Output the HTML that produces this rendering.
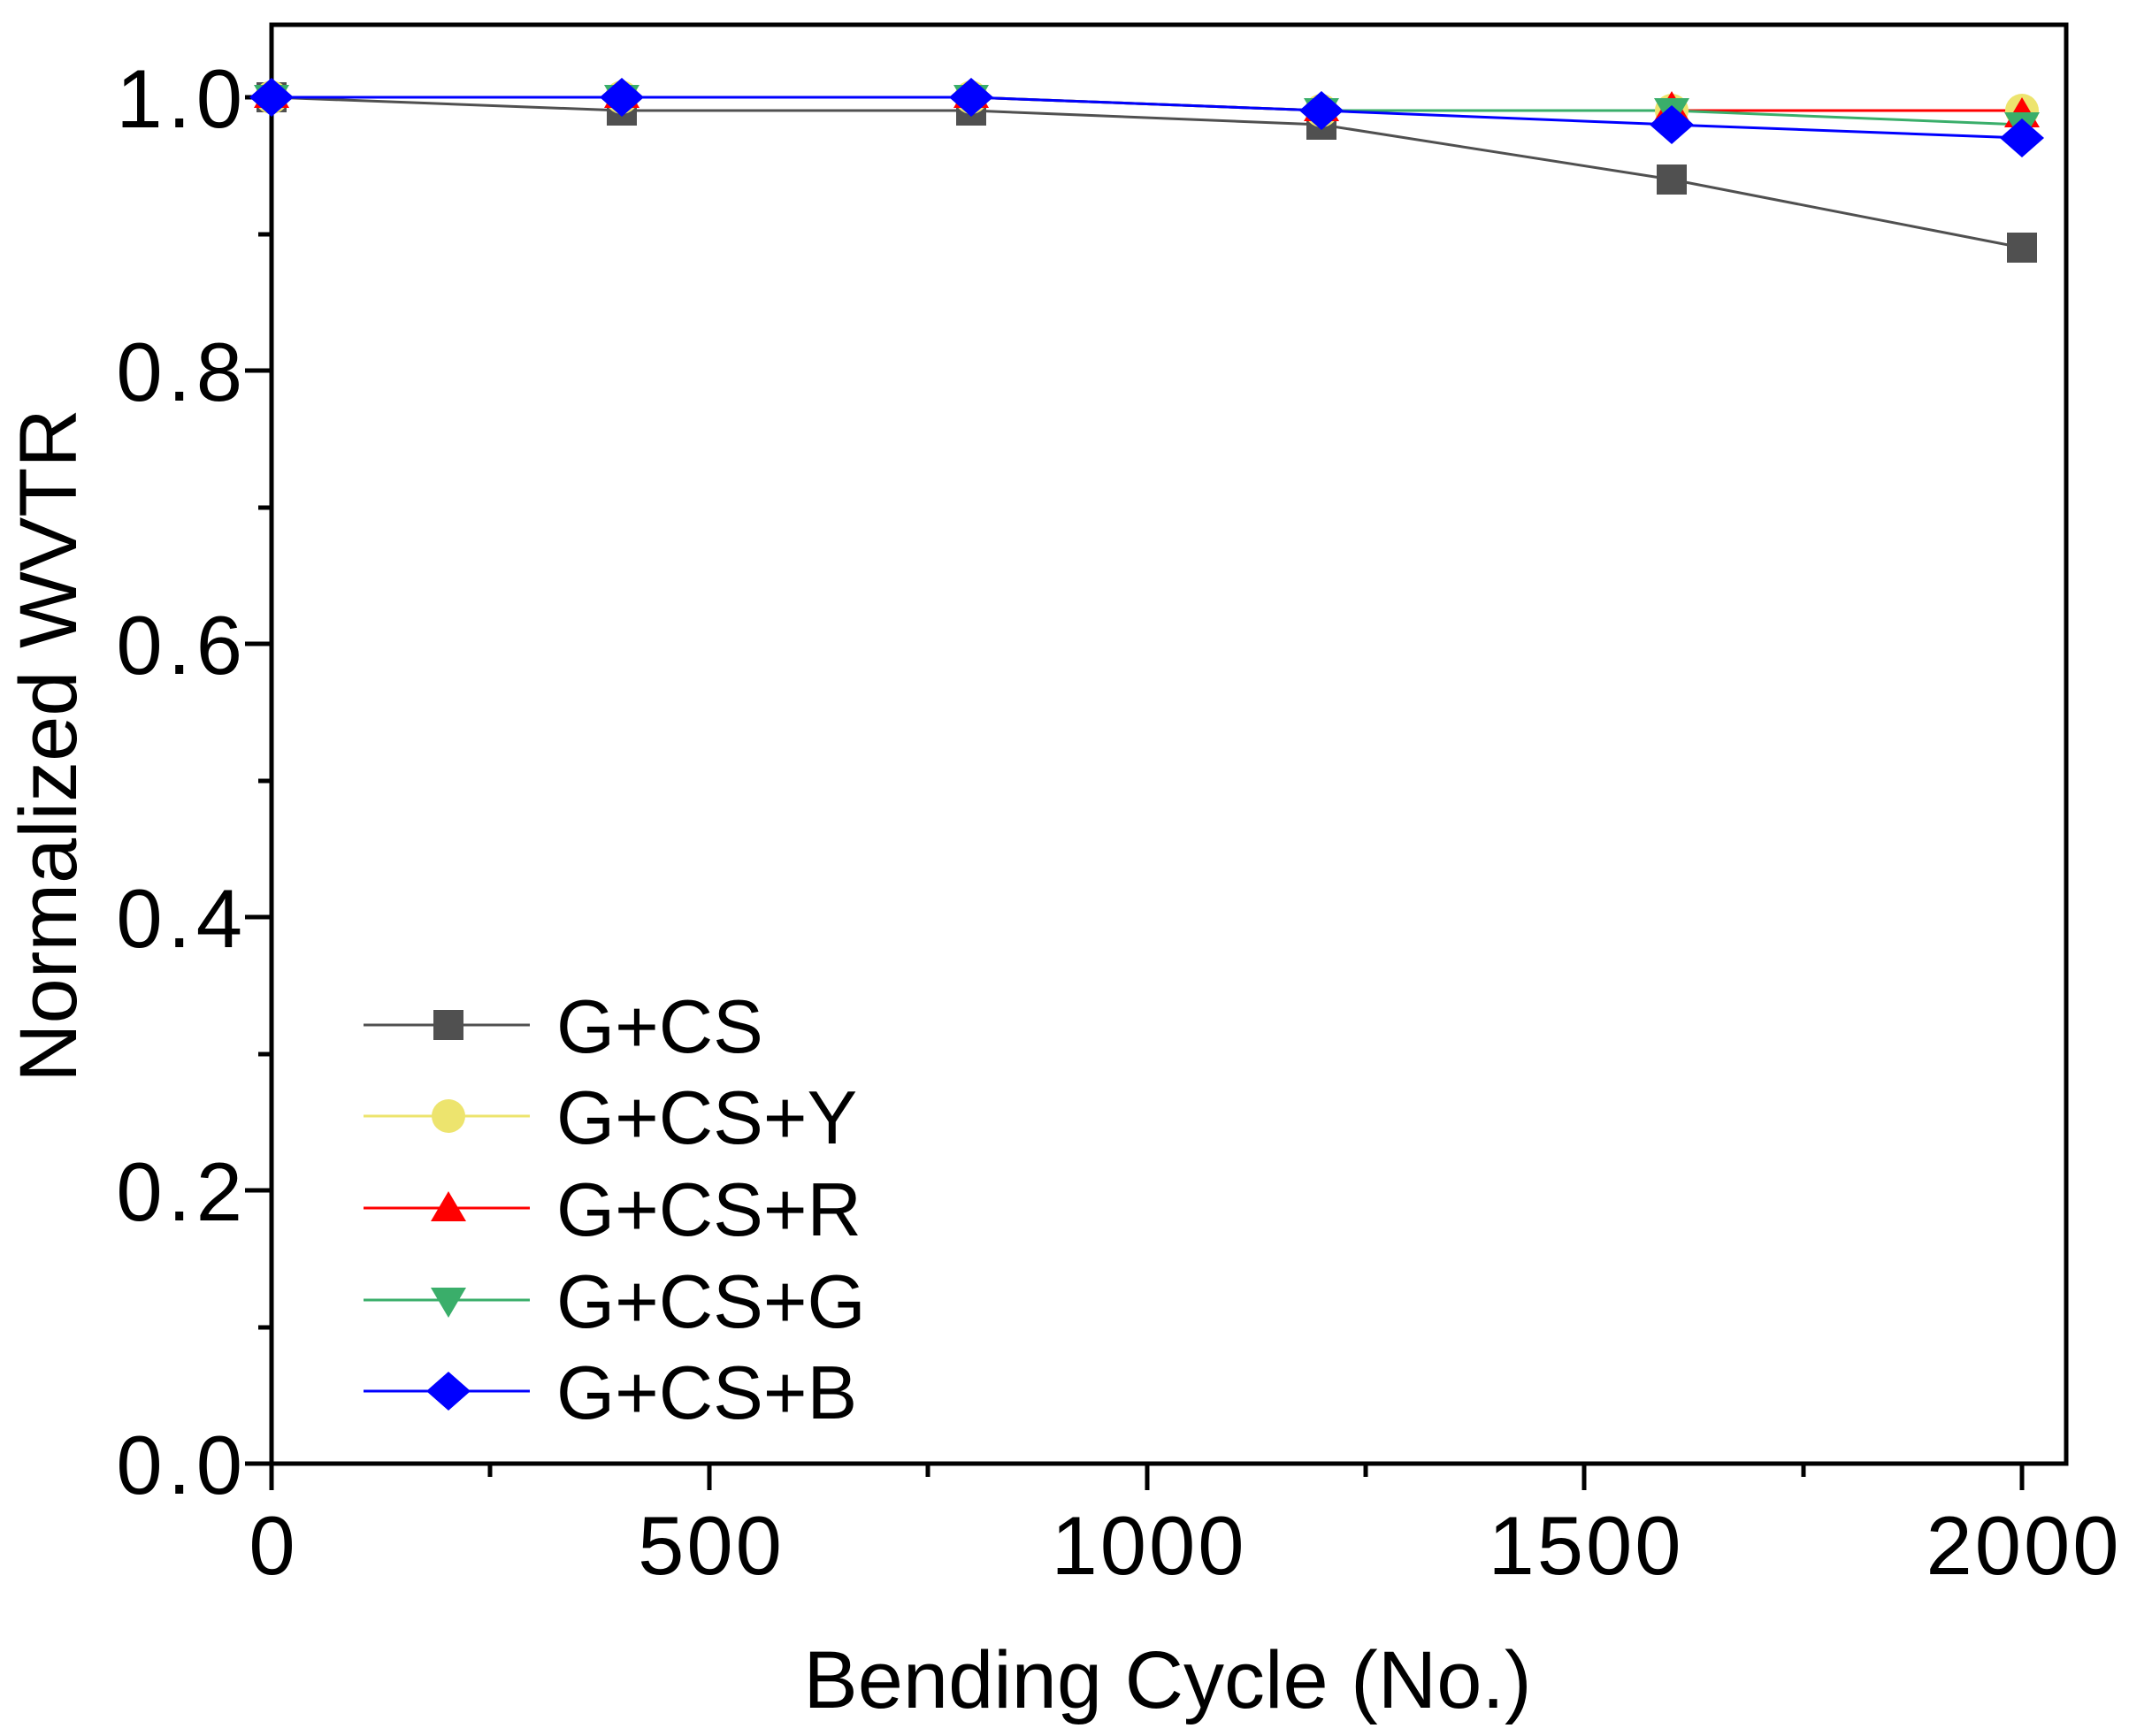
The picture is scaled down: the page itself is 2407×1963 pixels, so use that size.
<!DOCTYPE html>
<html><head><meta charset="utf-8"><style>body{margin:0;background:#fff}svg{display:block}</style></head>
<body>
<svg width="2407" height="1963" viewBox="0 0 2407 1963" xmlns="http://www.w3.org/2000/svg" font-family="Liberation Sans, Arial, sans-serif">
<rect width="2407" height="1963" fill="#fff"/>
<g stroke="#000" stroke-width="5">
<rect x="307" y="28" width="2029" height="1627" fill="none"/>
<line x1="307" y1="1655" x2="307" y2="1685"/><line x1="802" y1="1655" x2="802" y2="1685"/><line x1="1297" y1="1655" x2="1297" y2="1685"/><line x1="1791" y1="1655" x2="1791" y2="1685"/><line x1="2286" y1="1655" x2="2286" y2="1685"/>
<line x1="554" y1="1655" x2="554" y2="1670"/><line x1="1049" y1="1655" x2="1049" y2="1670"/><line x1="1544" y1="1655" x2="1544" y2="1670"/><line x1="2039" y1="1655" x2="2039" y2="1670"/>
<line x1="277" y1="1655" x2="307" y2="1655"/><line x1="277" y1="1346" x2="307" y2="1346"/><line x1="277" y1="1037" x2="307" y2="1037"/><line x1="277" y1="728" x2="307" y2="728"/><line x1="277" y1="419" x2="307" y2="419"/><line x1="277" y1="110" x2="307" y2="110"/>
<line x1="292" y1="1501" x2="307" y2="1501"/><line x1="292" y1="1192" x2="307" y2="1192"/><line x1="292" y1="883" x2="307" y2="883"/><line x1="292" y1="574" x2="307" y2="574"/><line x1="292" y1="265" x2="307" y2="265"/>
</g>
<g font-size="94" text-anchor="end" fill="#000" letter-spacing="6">
<text x="280" y="1689">0.0</text><text x="280" y="1380">0.2</text><text x="280" y="1071">0.4</text><text x="280" y="762">0.6</text><text x="280" y="453">0.8</text><text x="280" y="144">1.0</text>
</g>
<g font-size="94" text-anchor="middle" fill="#000" letter-spacing="3">
<text x="309" y="1780">0</text><text x="804" y="1780">500</text><text x="1299" y="1780">1000</text><text x="1793" y="1780">1500</text><text x="2288" y="1780">2000</text>
</g>
<g text-anchor="middle" fill="#000" font-size="92">
<text x="1320" y="1931">Bending Cycle (No.)</text>
<text transform="translate(86,843) rotate(-90)">Normalized WVTR</text>
</g>
<g fill="none" stroke-width="3">
<polyline stroke="#505050" points="307,110 703,125 1098,125 1494,141 1890,203 2286,280"/>
<polyline stroke="#ede46e" points="307,110 703,110 1098,110 1494,125 1890,125 2286,125"/>
<polyline stroke="#ff0000" points="307,110 703,110 1098,110 1494,125 1890,125 2286,125"/>
<polyline stroke="#3aae6a" points="307,110 703,110 1098,110 1494,125 1890,125 2286,141"/>
<polyline stroke="#0000ff" points="307,110 703,110 1098,110 1494,125 1890,141 2286,156"/>
</g>
<g fill="#505050">
<rect x="290" y="93" width="34" height="34"/><rect x="686" y="108" width="34" height="34"/><rect x="1081" y="108" width="34" height="34"/><rect x="1477" y="124" width="34" height="34"/><rect x="1873" y="186" width="34" height="34"/><rect x="2269" y="263" width="34" height="34"/>
</g>
<g fill="#ede46e">
<circle cx="307" cy="110" r="19"/><circle cx="703" cy="110" r="19"/><circle cx="1098" cy="110" r="19"/><circle cx="1494" cy="125" r="19"/><circle cx="1890" cy="125" r="19"/><circle cx="2286" cy="125" r="19"/>
</g>
<g fill="#ff0000">
<polygon points="307,88 327,122 287,122"/><polygon points="703,88 723,122 683,122"/><polygon points="1098,88 1118,122 1078,122"/><polygon points="1494,103 1514,137 1474,137"/><polygon points="1890,103 1910,137 1870,137"/><polygon points="2286,110 2306,144 2266,144"/>
</g>
<g fill="#3aae6a">
<polygon points="307,130 327,96 287,96"/><polygon points="703,130 723,96 683,96"/><polygon points="1098,130 1118,96 1078,96"/><polygon points="1494,145 1514,111 1474,111"/><polygon points="1890,145 1910,111 1870,111"/><polygon points="2286,161 2306,127 2266,127"/>
</g>
<g fill="#0000ff">
<polygon points="307,88 332,110 307,132 282,110"/><polygon points="703,88 728,110 703,132 678,110"/><polygon points="1098,88 1123,110 1098,132 1073,110"/><polygon points="1494,103 1519,125 1494,147 1469,125"/><polygon points="1890,119 1915,141 1890,163 1865,141"/><polygon points="2286,134 2311,156 2286,178 2261,156"/>
</g>
<g stroke-width="3">
<line x1="411" y1="1159" x2="599" y2="1159" stroke="#505050"/>
<line x1="411" y1="1262" x2="599" y2="1262" stroke="#ede46e"/>
<line x1="411" y1="1366" x2="599" y2="1366" stroke="#ff0000"/>
<line x1="411" y1="1470" x2="599" y2="1470" stroke="#3aae6a"/>
<line x1="411" y1="1573" x2="599" y2="1573" stroke="#0000ff"/>
</g>
<rect x="490" y="1142" width="34" height="34" fill="#505050"/>
<circle cx="507" cy="1262" r="19" fill="#ede46e"/>
<polygon points="507,1347 527,1381 487,1381" fill="#ff0000"/>
<polygon points="507,1490 527,1456 487,1456" fill="#3aae6a"/>
<polygon points="507,1551 532,1573 507,1595 482,1573" fill="#0000ff"/>
<g font-size="85" fill="#000">
<text x="629" y="1190">G+CS</text><text x="629" y="1293">G+CS+Y</text><text x="629" y="1397">G+CS+R</text><text x="629" y="1501">G+CS+G</text><text x="629" y="1604">G+CS+B</text>
</g>
</svg>
</body></html>
